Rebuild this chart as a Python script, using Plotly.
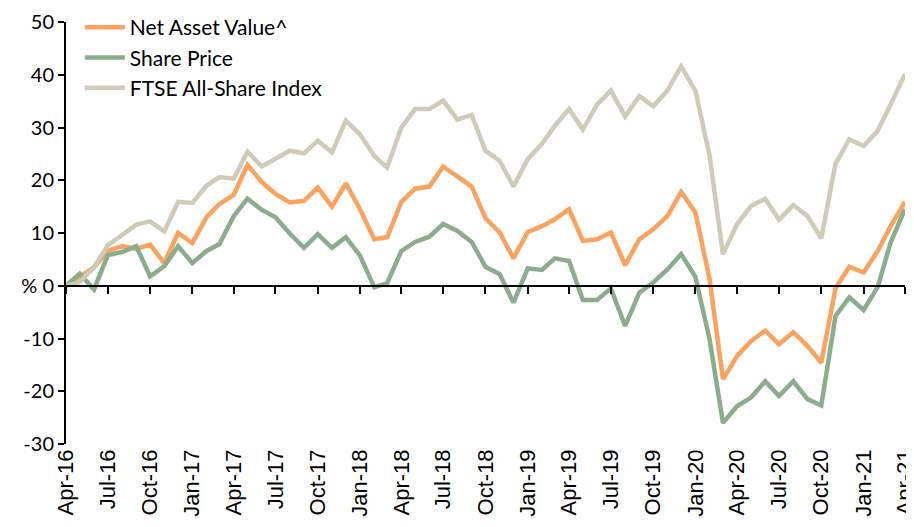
import plotly.graph_objects as go
import pandas as pd

months = pd.date_range("2016-04-01", periods=61, freq="MS")

nav = [0, 1.8, 3.5, 6.6, 7.5, 7.0, 7.8, 4.3, 10.0, 8.1,
       13.0, 15.5, 17.2, 22.9, 19.7, 17.4, 15.8, 16.1, 18.6, 15.0,
       19.4, 14.5, 8.8, 9.2, 15.9, 18.4, 18.8, 22.6, 20.7, 18.8,
       12.8, 10.1, 5.2, 10.2, 11.3, 12.6, 14.5, 8.5, 8.8, 10.1,
       3.9, 8.8, 10.7, 13.2, 17.8, 13.9, 1.2, -17.7, -13.3, -10.5,
       -8.5, -11.1, -8.8, -11.4, -14.6, -0.5, 3.6, 2.5, 6.6, 11.3, 15.9]

share_price = [0, 2.3, -0.7, 5.8, 6.4, 7.5, 1.8, 3.7, 7.5, 4.3,
               6.6, 7.9, 13.2, 16.5, 14.4, 13.0, 9.9, 7.2, 9.8, 7.2,
               9.2, 5.7, -0.3, 0.5, 6.6, 8.3, 9.3, 11.7, 10.4, 8.3,
               3.6, 2.2, -3.2, 3.3, 3.0, 5.2, 4.7, -2.7, -2.7, -0.5,
               -7.6, -1.3, 0.6, 3.1, 6.0, 1.7, -10.2, -26.0, -22.8, -21.2,
               -18.1, -20.9, -18.1, -21.5, -22.7, -5.7, -2.2, -4.6, -0.2, 8.2, 14.5]

ftse = [0, 0.7, 3.5, 7.7, 9.6, 11.6, 12.2, 10.3, 15.9, 15.7,
        19.0, 20.6, 20.3, 25.4, 22.6, 24.0, 25.6, 25.1, 27.5, 25.3,
        31.3, 28.7, 24.6, 22.4, 30.0, 33.5, 33.5, 35.1, 31.5, 32.4,
        25.6, 23.7, 18.8, 24.0, 26.9, 30.3, 33.5, 29.6, 34.4, 37.0,
        32.1, 36.0, 34.0, 37.0, 41.6, 37.0, 24.6, 6.0, 11.7, 15.1,
        16.5, 12.5, 15.3, 13.2, 9.0, 23.1, 27.8, 26.5, 29.4, 34.4, 40.1]

series_names = ["Net Asset Value^", "Share Price", "FTSE All-Share Index"]
series_colors = ["#FBA25F", "#8AAE8C", "#CFCBB7"]

y_tickvals = [-30, -20, -10, 0, 10, 20, 30, 40, 50]
y_ticktext = ["-30", "-20", "-10", "% 0", "10", "20", "30", "40", "50"]

fig = go.Figure()
for name, vals, col in zip(series_names, [nav, share_price, ftse], series_colors):
    fig.add_trace(go.Scatter(x=months, y=vals, mode="lines", name=name,
                             line=dict(color=col, width=4.5), cliponaxis=False))

# invisible trace to instantiate the zero-line axis
fig.add_trace(go.Scatter(x=months, y=[None] * len(months), xaxis="x2", yaxis="y",
                         mode="lines", showlegend=False, hoverinfo="skip"))

xr = [months[0], months[-1] + pd.Timedelta(hours=6)]
ymin, ymax = -30, 50
# page body has an 8px margin; figure size/margins compensate for it
fig.update_layout(
    width=906, height=519,
    margin=dict(l=58, r=9, t=14, b=83, autoexpand=False),
    paper_bgcolor="white", plot_bgcolor="white",
    font=dict(family="Lato, Noto Sans, sans-serif", color="#000000"),
    showlegend=True,
    legend=dict(x=0.0165, y=1.0355, xanchor="left", yanchor="top",
                font=dict(size=21, family="Lato, Noto Sans, sans-serif"),
                bgcolor="rgba(0,0,0,0)", tracegroupgap=0, itemwidth=40),
    xaxis=dict(range=xr, tick0=months[0], dtick="M3", tickformat="%b-%y",
               tickangle=-90, showline=False, showgrid=False, zeroline=False,
               automargin=False, ticklabeloverflow="allow",
               ticks="", tickfont=dict(size=22, family="Liberation Sans, Arial, sans-serif")),
    xaxis2=dict(range=xr, overlaying="x", anchor="free",
                position=(0 - ymin) / (ymax - ymin),
                tick0=months[0], dtick="M3", showticklabels=False,
                showline=True, linecolor="black", linewidth=2,
                ticks="outside", ticklen=7, tickwidth=2, tickcolor="black",
                showgrid=False, zeroline=False),
    yaxis=dict(range=[ymin, ymax], tickvals=y_tickvals, ticktext=y_ticktext,
               showline=True, linecolor="black", linewidth=2,
               ticks="outside", ticklen=6, tickwidth=2, tickcolor="black",
               showgrid=False, zeroline=False, automargin=False,
               tickfont=dict(size=20, family="Lato, Noto Sans, sans-serif")),
)

fig.write_html("out.html")
